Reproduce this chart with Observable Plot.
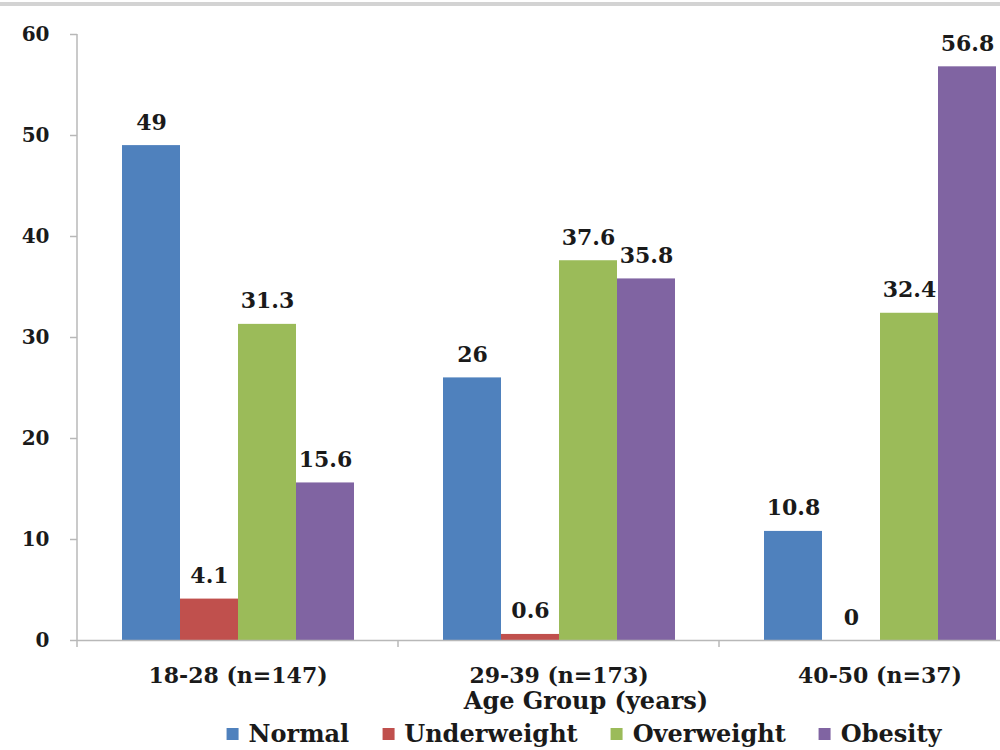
<!DOCTYPE html>
<html>
<head>
<meta charset="utf-8">
<script src="https://cdn.jsdelivr.net/npm/d3@7"></script>
<script src="https://cdn.jsdelivr.net/npm/@observablehq/plot@0.6"></script>
<style>
  html, body { margin: 0; padding: 0; background: #fff; overflow: hidden; }
  #wrap { position: relative; width: 1000px; height: 750px; overflow: hidden; }
  #topline { position: absolute; left: 0; top: 2px; width: 1000px; height: 4px; background: #d3d3d3; }
  #chart { position: absolute; left: 0; top: 0; }
  .serif { font-family: "DejaVu Serif", serif; font-weight: bold; color: #1a1a1a; }
  #xtitle { position: absolute; left: 586px; top: 686px; transform: translateX(-50%); white-space: nowrap; font-size: 24px; line-height: 30px; }
  #legend { position: absolute; left: 584px; top: 719px; transform: translateX(-50%); white-space: nowrap; font-size: 24px; line-height: 30px; display: flex; }
  #legend .item { display: flex; align-items: center; margin-right: 33px; }
  #legend .item:last-child { margin-right: 0; }
  #legend .sw { width: 12px; height: 12px; margin-right: 10px; }
</style>
</head>
<body>
<div id="wrap">
  <div id="chart"></div>
  <div id="topline"></div>
  <div id="xtitle" class="serif"></div>
  <div id="legend" class="serif"></div>
</div>
<script>
// Age groups (with sample sizes) and BMI categories
const groups = ["18-28 (n=147)", "29-39 (n=173)", "40-50 (n=37)"];
const categories = ["Normal", "Underweight", "Overweight", "Obesity"];

// Percentage of each age group in each BMI category
const normal = [49, 26, 10.8];
const underweight = [4.1, 0.6, 0];
const overweight = [31.3, 37.6, 32.4];
const obesity = [15.6, 35.8, 56.8];

const colors = ["#4F81BD", "#C0504D", "#9BBB59", "#8064A2"];
const yTicks = [0, 10, 20, 30, 40, 50, 60];
const xTitle = "Age Group (years)";

const series = [normal, underweight, overweight, obesity];
const rows = [];
groups.forEach((g, i) => {
  categories.forEach((c, j) => {
    rows.push({group: g, category: c, value: series[j][i]});
  });
});

const axisGray = "#b8b8b8";
const ink = "#1a1a1a";

const chart = Plot.plot({
  width: 1000,
  height: 718,
  marginTop: 34,
  marginBottom: 78,
  marginLeft: 77,
  marginRight: 0,
  style: {fontFamily: "DejaVu Serif, serif", fontWeight: "bold", color: ink, background: "transparent"},
  fx: {domain: groups, range: [77, 1040], paddingInner: 0, paddingOuter: 0, label: null},
  x: {domain: categories, paddingInner: 0, paddingOuter: 0.74, axis: null},
  y: {domain: [0, 60], label: null},
  color: {domain: categories, range: colors},
  marks: [
    Plot.barY(rows, {fx: "group", x: "category", y: "value", fill: "category"}),
    Plot.text(rows, {
      fx: "group", x: "category", y: "value",
      text: d => String(d.value),
      lineAnchor: "bottom", dy: -16, fontSize: 22, fill: ink
    }),
    Plot.ruleY([0], {stroke: axisGray, strokeWidth: 1.5}),
    Plot.axisY(yTicks, {tickSize: 7, tickPadding: 21, fontSize: 20, stroke: axisGray, strokeWidth: 1.5, fill: ink, label: null}),
    Plot.axisFx({anchor: "bottom", tickSize: 0, tickPadding: 27, fontSize: 22, fill: ink, label: null})
  ]
});

document.getElementById("chart").appendChild(chart);

// Vertical axis line and group separator ticks, placed via the plot's own scales
const fx = chart.scale("fx");
const y = chart.scale("y");
const svg = d3.select(chart);
const y0 = y.apply(0);
const g = svg.append("g").attr("stroke", axisGray).attr("stroke-width", 1.5);
g.append("line")
  .attr("x1", fx.apply(groups[0])).attr("x2", fx.apply(groups[0]))
  .attr("y1", y.apply(60)).attr("y2", y0 + 7);
g.selectAll("line.sep").data(groups.slice(1)).join("line")
  .attr("class", "sep")
  .attr("x1", d => fx.apply(d)).attr("x2", d => fx.apply(d))
  .attr("y1", y0).attr("y2", y0 + 7);

// Axis title and legend below the plot
document.getElementById("xtitle").textContent = xTitle;
const legend = d3.select("#legend");
categories.forEach((c, j) => {
  const item = legend.append("div").attr("class", "item");
  item.append("div").attr("class", "sw").style("background", colors[j]);
  item.append("span").text(c);
});
</script>
</body>
</html>
